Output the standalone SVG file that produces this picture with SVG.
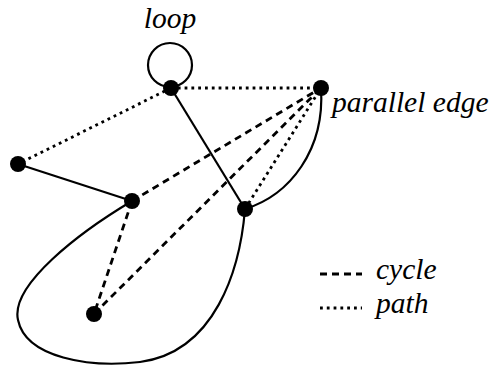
<svg xmlns="http://www.w3.org/2000/svg" width="494" height="368" viewBox="0 0 494 368">
<style>
.e{fill:none;stroke:#000;stroke-width:2.2}
.dash{fill:none;stroke:#000;stroke-width:2.8;stroke-dasharray:7 5}
.dot{fill:none;stroke:#000;stroke-width:2.8;stroke-dasharray:2.8 4}
.n{fill:#000}
text{font-family:'Liberation Serif','DejaVu Serif',serif;font-style:italic;font-size:29.5px;fill:#000}
</style>
<rect width="494" height="368" fill="#fff"/>
<g id="connectors">
<circle class="e" cx="170" cy="65" r="22"/>
<line class="dot" x1="171" y1="88" x2="321" y2="88"/>
<line class="dot" x1="171" y1="88" x2="18" y2="164"/>
<line class="e" x1="171" y1="88" x2="245" y2="209"/>
<line class="e" x1="18" y1="164" x2="132" y2="201"/>
<line class="dash" x1="132" y1="201" x2="321" y2="88"/>
<line class="dash" x1="132" y1="201" x2="94" y2="314"/>
<line class="dash" x1="94" y1="314" x2="321" y2="88"/>
<line class="dot" x1="245" y1="209" x2="321" y2="88"/>
<path class="e" d="M245,209 C290,195 325,150 321,88"/>
<path class="e" d="M132,201 C80,232 10,285 18,320 C26,358 90,368 140,362 C215,352 240,270 245,209"/>
</g>
<g id="nA"><circle class="n" cx="171" cy="88" r="8"/></g>
<g id="nB"><circle class="n" cx="321" cy="88" r="8"/></g>
<g id="nC"><circle class="n" cx="18" cy="164" r="8"/></g>
<g id="nD"><circle class="n" cx="132" cy="201" r="8"/></g>
<g id="nE"><circle class="n" cx="245" cy="209" r="8"/></g>
<g id="nF"><circle class="n" cx="94" cy="314" r="8"/></g>
<g id="labels">
<text x="170" y="28" text-anchor="middle">loop</text>
<text x="332" y="112">parallel edge</text>
<line class="dash" x1="320" y1="274" x2="362" y2="274"/>
<text x="376" y="279">cycle</text>
<line class="dot" x1="320" y1="308" x2="362" y2="308"/>
<text x="376" y="313">path</text>
</g>
</svg>
